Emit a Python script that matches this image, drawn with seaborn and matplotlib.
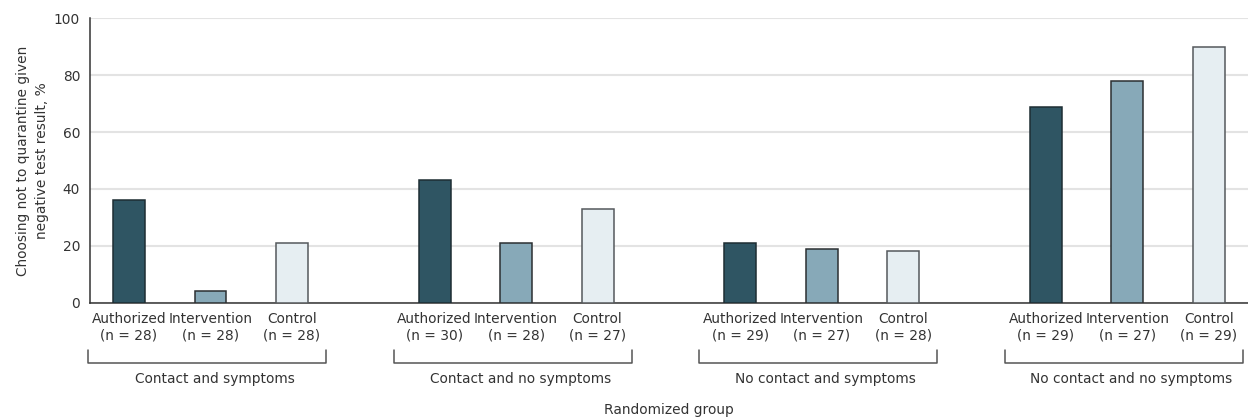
import pandas as pd
import matplotlib.pyplot as plt
import seaborn as sns

# Data
groups = ["Contact and symptoms", "Contact and no symptoms",
          "No contact and symptoms", "No contact and no symptoms"]
arms = ["Authorized", "Intervention", "Control"]
pct_authorized = [36, 43, 21, 69]
pct_intervention = [4, 21, 19, 78]
pct_control = [21, 33, 18, 90]
n_authorized = [28, 30, 29, 29]
n_intervention = [28, 28, 27, 27]
n_control = [28, 27, 28, 29]

values = [pct_authorized, pct_intervention, pct_control]
counts = [n_authorized, n_intervention, n_control]

group_step = 3.75  # gap between groups
rows = []
for g, grp in enumerate(groups):
    for a, arm in enumerate(arms):
        rows.append({"Group": grp, "Arm": arm,
                     "pos": g * group_step + a,
                     "Pct": values[a][g],
                     "label": f"{arm}\n(n = {counts[a][g]})"})
df = pd.DataFrame(rows)

fills = {"Authorized": "#2f5563", "Intervention": "#87a9b8", "Control": "#e6eef2"}
edges = {"Authorized": "#1e2d33", "Intervention": "#2b2f31", "Control": "#55595c"}

sns.set_style("white")
plt.rcParams["font.family"] = ["DejaVu Sans"]
fs = 9.9
text_col = "#333333"

fig = plt.figure(figsize=(12.48, 4.19), dpi=100)
ax = fig.add_axes([0.072, 0.278, 0.928, 0.678])

sns.barplot(data=df, x="pos", y="Pct", hue="Arm", hue_order=arms,
            palette=fills, saturation=1, native_scale=True, dodge=False,
            width=0.39, linewidth=1.1, legend=False, ax=ax, zorder=3)

for cont, arm in zip(ax.containers, arms):
    for p in cont:
        p.set_edgecolor(edges[arm])

ax.set_xlim(-0.48, 13.73)
ax.set_ylim(0, 100)
ax.set_yticks(range(0, 101, 20))
ax.yaxis.grid(True, color="#e3e3e3", linewidth=1.5, zorder=0)
ax.set_axisbelow(True)
ax.set_xticks(df["pos"])
ax.set_xticklabels(df["label"], fontsize=fs, color=text_col)
ax.tick_params(axis="x", length=0, pad=7)
ax.tick_params(axis="y", length=5, width=1, color=text_col, labelsize=fs,
               labelcolor=text_col, pad=2)

sns.despine(ax=ax, top=True, right=True)
for side in ["left", "bottom"]:
    ax.spines[side].set_color(text_col)
    ax.spines[side].set_linewidth(1.1)

ax.set_ylabel("Choosing not to quarantine given\nnegative test result, %",
              fontsize=fs, color=text_col, linespacing=1.5)
ax.yaxis.set_label_coords(-0.035, 0.5)
ax.set_xlabel("Randomized group", fontsize=fs, color=text_col)
ax.xaxis.set_label_coords(0.5, -0.352)

# group brackets under the tick labels
trans = ax.get_xaxis_transform()
for g, grp in enumerate(groups):
    start = g * group_step
    x0, x1 = start - 0.5, start + 2 + 0.42
    ax.plot([x0, x0, x1, x1], [-0.167, -0.213, -0.213, -0.167], transform=trans,
            color="#555555", linewidth=1.1, clip_on=False)
    ax.text(start + 1.05, -0.27, grp, transform=trans, ha="center", va="center",
            fontsize=fs, color=text_col)

fig.savefig("out.png", dpi=100)
